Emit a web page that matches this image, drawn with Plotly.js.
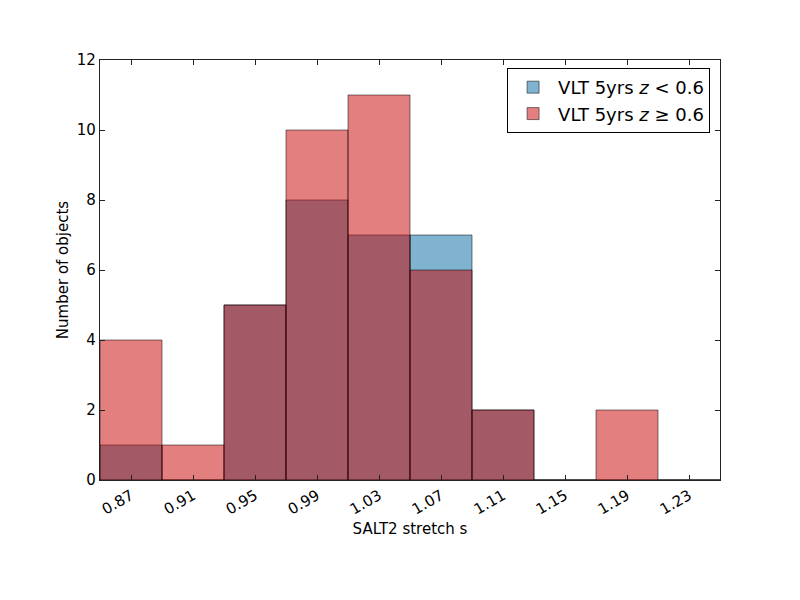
<!DOCTYPE html>
<html>
<head>
<meta charset="utf-8">
<script src="https://cdn.plot.ly/plotly-3.0.1.min.js"></script>
<style>
  html, body { margin: 0; padding: 0; background: #fff; }
  #graph { width: 800px; height: 600px; }
</style>
</head>
<body>
<div id="graph"></div>
<script>
// histogram bins (centres) of SALT2 stretch, bin width 0.04
const binCenters = [0.87, 0.91, 0.95, 0.99, 1.03, 1.07, 1.11, 1.15, 1.19, 1.23];
const binWidth = 0.04;
const countsLowZ = [1, 0, 5, 8, 7, 7, 2, 0, 0, 0];
const countsHighZ = [4, 1, 5, 10, 11, 6, 2, 0, 2, 0];
const xTickLabels = ['0.87', '0.91', '0.95', '0.99', '1.03', '1.07', '1.11', '1.15', '1.19', '1.23'];
const yTicks = [0, 2, 4, 6, 8, 10, 12];

const edge = { color: 'rgba(0,0,0,0.5)', width: 1 };

const lowTrace = {
    type: 'bar',
    x: binCenters,
    y: countsLowZ,
    width: binWidth,
    name: 'VLT 5yrs <i>z</i> < 0.6',
    marker: { color: 'rgba(0,103,159,0.5)', line: edge },
    hoverinfo: 'x+y',
};

const highTrace = {
    type: 'bar',
    x: binCenters,
    y: countsHighZ,
    width: binWidth,
    name: 'VLT 5yrs <i>z</i> ≥ 0.6',
    marker: { color: 'rgba(201,0,0,0.5)', line: edge },
    hoverinfo: 'x+y',
};

const axisCommon = {
    showgrid: false,
    zeroline: false,
    showline: true,
    linecolor: '#222',
    linewidth: 1.2,
    mirror: 'ticks',
    ticks: 'inside',
    ticklen: 5,
    tickcolor: '#222',
    tickwidth: 1,
    tickfont: { family: 'DejaVu Sans', size: 15, color: '#000' },
};

const layout = {
    width: 800,
    height: 600,
    margin: { l: 100, r: 80, t: 60, b: 120 },
    paper_bgcolor: '#fff',
    plot_bgcolor: '#fff',
    barmode: 'overlay',
    bargap: 0,
    font: { family: 'DejaVu Sans', color: '#000' },
    showlegend: true,
    legend: {
        x: 0.984, y: 0.981, xanchor: 'right', yanchor: 'top',
        bgcolor: '#fff',
        bordercolor: '#000',
        borderwidth: 1,
        itemwidth: 40,
        font: { family: 'DejaVu Sans', size: 18, color: '#000' },
        tracegroupgap: 2,
    },
    xaxis: Object.assign({}, axisCommon, {
        range: [0.85, 1.25],
        tickvals: binCenters,
        ticktext: xTickLabels,
        tickangle: -30,
        title: { text: 'SALT2 stretch s', font: { size: 15 }, standoff: 6 },
    }),
    yaxis: Object.assign({}, axisCommon, {
        range: [0, 12],
        tickvals: yTicks,
        title: { text: 'Number of objects', font: { size: 15 }, standoff: 4 },
    }),
};

const config = { staticPlot: true, displayModeBar: false };

Plotly.newPlot('graph', [lowTrace, highTrace], layout, config);
</script>
</body>
</html>
